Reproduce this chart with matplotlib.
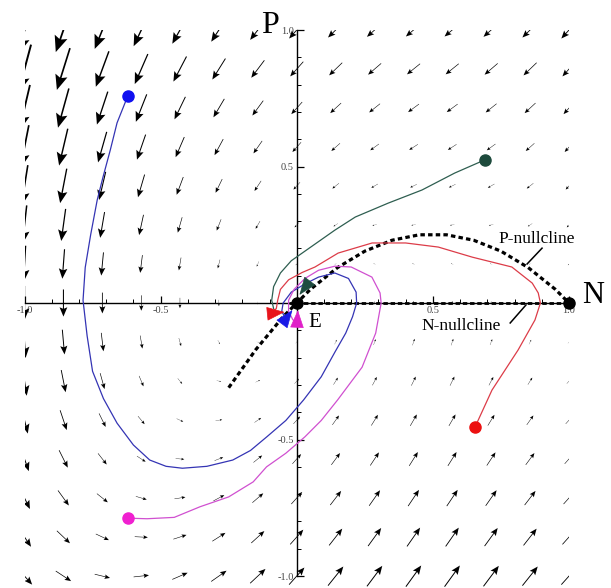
import numpy as np
import matplotlib
matplotlib.use("Agg")
import matplotlib.pyplot as plt

# ---------------- data ----------------
N_grid = [-1.0, -0.857, -0.714, -0.571, -0.429, -0.286, -0.143, 0.0,
          0.143, 0.286, 0.429, 0.571, 0.714, 0.857, 1.0]
P_grid = [1.0, 0.857, 0.714, 0.571, 0.429, 0.286, 0.143, 0.0,
          -0.143, -0.286, -0.429, -0.571, -0.714, -0.857, -1.0]

dN = [
    [-0.90, -0.90, -0.90, -0.90, -0.90, -0.90, -0.90, -0.90, -0.90, -0.90, -0.90, -0.90, -0.90, -0.90, -0.90],
    [-0.77, -0.77, -0.77, -0.77, -0.77, -0.77, -0.77, -0.77, -0.77, -0.77, -0.77, -0.77, -0.77, -0.77, -0.77],
    [-0.64, -0.64, -0.64, -0.64, -0.64, -0.64, -0.64, -0.64, -0.64, -0.64, -0.64, -0.64, -0.64, -0.64, -0.64],
    [-0.51, -0.51, -0.51, -0.51, -0.51, -0.51, -0.51, -0.51, -0.51, -0.51, -0.51, -0.51, -0.51, -0.51, -0.51],
    [-0.39, -0.39, -0.39, -0.39, -0.39, -0.39, -0.39, -0.39, -0.39, -0.39, -0.39, -0.39, -0.39, -0.39, -0.39],
    [-0.26, -0.26, -0.26, -0.26, -0.26, -0.26, -0.26, -0.26, -0.26, -0.26, -0.26, -0.26, -0.26, -0.26, -0.26],
    [-0.13, -0.13, -0.13, -0.13, -0.13, -0.13, -0.13, -0.13, -0.13, -0.13, -0.13, -0.13, -0.13, -0.13, -0.13],
    [0.00, 0.00, 0.00, 0.00, 0.00, 0.00, 0.00, 0.00, 0.00, 0.00, 0.00, 0.00, 0.00, 0.00, 0.00],
    [0.13, 0.13, 0.13, 0.13, 0.13, 0.13, 0.13, 0.13, 0.13, 0.13, 0.13, 0.13, 0.13, 0.13, 0.13],
    [0.26, 0.26, 0.26, 0.26, 0.26, 0.26, 0.26, 0.26, 0.26, 0.26, 0.26, 0.26, 0.26, 0.26, 0.26],
    [0.39, 0.39, 0.39, 0.39, 0.39, 0.39, 0.39, 0.39, 0.39, 0.39, 0.39, 0.39, 0.39, 0.39, 0.39],
    [0.51, 0.51, 0.51, 0.51, 0.51, 0.51, 0.51, 0.51, 0.51, 0.51, 0.51, 0.51, 0.51, 0.51, 0.51],
    [0.64, 0.64, 0.64, 0.64, 0.64, 0.64, 0.64, 0.64, 0.64, 0.64, 0.64, 0.64, 0.64, 0.64, 0.64],
    [0.77, 0.77, 0.77, 0.77, 0.77, 0.77, 0.77, 0.77, 0.77, 0.77, 0.77, 0.77, 0.77, 0.77, 0.77],
    [0.90, 0.90, 0.90, 0.90, 0.90, 0.90, 0.90, 0.90, 0.90, 0.90, 0.90, 0.90, 0.90, 0.90, 0.90],
]

dP = [
    [-3.00, -2.59, -2.22, -1.90, -1.61, -1.37, -1.16, -1.00, -0.88, -0.80, -0.76, -0.76, -0.80, -0.88, -1.00],
    [-2.86, -2.45, -2.08, -1.76, -1.47, -1.23, -1.02, -0.86, -0.74, -0.66, -0.62, -0.62, -0.66, -0.74, -0.86],
    [-2.71, -2.30, -1.93, -1.61, -1.32, -1.08, -0.87, -0.71, -0.59, -0.51, -0.47, -0.47, -0.51, -0.59, -0.71],
    [-2.57, -2.16, -1.79, -1.47, -1.18, -0.94, -0.73, -0.57, -0.45, -0.37, -0.33, -0.33, -0.37, -0.45, -0.57],
    [-2.43, -2.02, -1.65, -1.33, -1.04, -0.80, -0.59, -0.43, -0.31, -0.23, -0.19, -0.19, -0.23, -0.31, -0.43],
    [-2.29, -1.88, -1.51, -1.19, -0.90, -0.66, -0.45, -0.29, -0.17, -0.09, -0.05, -0.05, -0.09, -0.17, -0.29],
    [-2.14, -1.73, -1.36, -1.04, -0.75, -0.51, -0.30, -0.14, -0.02, 0.06, 0.10, 0.10, 0.06, -0.02, -0.14],
    [-2.00, -1.59, -1.22, -0.90, -0.61, -0.37, -0.16, 0.00, 0.12, 0.20, 0.24, 0.24, 0.20, 0.12, 0.00],
    [-1.86, -1.45, -1.08, -0.76, -0.47, -0.23, -0.02, 0.14, 0.26, 0.34, 0.38, 0.38, 0.34, 0.26, 0.14],
    [-1.71, -1.30, -0.93, -0.61, -0.32, -0.08, 0.13, 0.29, 0.41, 0.49, 0.53, 0.53, 0.49, 0.41, 0.29],
    [-1.57, -1.16, -0.79, -0.47, -0.18, 0.06, 0.27, 0.43, 0.55, 0.63, 0.67, 0.67, 0.63, 0.55, 0.43],
    [-1.43, -1.02, -0.65, -0.33, -0.04, 0.20, 0.41, 0.57, 0.69, 0.77, 0.81, 0.81, 0.77, 0.69, 0.57],
    [-1.29, -0.88, -0.51, -0.19, 0.10, 0.34, 0.55, 0.71, 0.83, 0.91, 0.95, 0.95, 0.91, 0.83, 0.71],
    [-1.14, -0.73, -0.36, -0.04, 0.25, 0.49, 0.70, 0.86, 0.98, 1.06, 1.10, 1.10, 1.06, 0.98, 0.86],
    [-1.00, -0.59, -0.22, 0.10, 0.39, 0.63, 0.84, 1.00, 1.12, 1.20, 1.24, 1.24, 1.20, 1.12, 1.00],
]

# P-nullcline (dashed hump)
pnull_N = [-0.25, -0.15, -0.05, 0.05, 0.15, 0.25, 0.35, 0.45, 0.55, 0.65, 0.75, 0.85, 0.95, 1.0]
pnull_P = [-0.31, -0.17, -0.05, 0.05, 0.13, 0.19, 0.23, 0.25, 0.25, 0.23, 0.19, 0.13, 0.05, 0.0]
# N-nullcline (along the N axis)
nnull_N = [-0.03, 1.0]
nnull_P = [0.0, 0.0]

# trajectories
blue_N = [-0.62, -0.66, -0.685, -0.712, -0.733, -0.757, -0.777, -0.785, -0.77, -0.75, -0.71, -0.66,
          -0.60, -0.54, -0.48, -0.42, -0.33, -0.235, -0.17, -0.11, -0.04, 0.025, 0.09, 0.14, 0.18,
          0.205, 0.22, 0.218, 0.19, 0.14, 0.08, 0.03, -0.02, -0.05, -0.055, -0.045]
blue_P = [0.76, 0.66, 0.56, 0.46, 0.377, 0.25, 0.13, 0.01, -0.12, -0.25, -0.35, -0.44,
          -0.52, -0.575, -0.598, -0.605, -0.598, -0.575, -0.54, -0.49, -0.43, -0.355, -0.27, -0.18, -0.11,
          -0.05, 0.0, 0.04, 0.09, 0.11, 0.095, 0.07, 0.04, 0.0, -0.03, -0.05]

mag_N = [-0.62, -0.55, -0.45, -0.355, -0.25, -0.16, -0.111, -0.04, 0.03, 0.09, 0.15, 0.24, 0.29, 0.31,
         0.306, 0.276, 0.2, 0.14, 0.08, 0.03, -0.01, -0.03, -0.03, -0.015, -0.002]
mag_P = [-0.788, -0.79, -0.785, -0.746, -0.71, -0.655, -0.60, -0.55, -0.49, -0.43, -0.355, -0.235, -0.11, 0.0,
         0.037, 0.095, 0.132, 0.135, 0.12, 0.09, 0.05, 0.01, -0.03, -0.06, -0.075]

red_N = [0.655, 0.717, 0.813, 0.875, 0.895, 0.887, 0.865, 0.79, 0.645, 0.52, 0.40, 0.277, 0.152,
         0.067, 0.02, -0.03, -0.06, -0.07, -0.075, -0.09]
red_P = [-0.454, -0.319, -0.172, -0.062, 0.0, 0.037, 0.073, 0.132, 0.168, 0.205, 0.22, 0.22, 0.183,
         0.132, 0.112, 0.085, 0.05, 0.01, -0.02, -0.033]

green_N = [0.69, 0.58, 0.46, 0.336, 0.215, 0.14, 0.08, 0.03, -0.02, -0.06, -0.085, -0.092, -0.085]
green_P = [0.524, 0.476, 0.414, 0.366, 0.315, 0.267, 0.225, 0.19, 0.155, 0.11, 0.06, 0.01, -0.02]

# end arrowheads near E: tip position and direction
head_tips = [(-0.045, -0.033), (-0.016, -0.026), (0.004, -0.026), (0.01, 0.03)]
head_dirs = [(1.0, 0.1), (0.6, 0.8), (0.05, 1.0), (-0.6, -0.8)]
head_cols = ["#e8141c", "#1a1ae6", "#e020c8", "#1f4c40"]

fp_N = [0.0, 1.0]
fp_P = [0.0, 0.0]

# ---------------- figure ----------------
fig = plt.figure(figsize=(6.11, 5.88), dpi=100)
ax = fig.add_axes([24.5 / 611, 1.0 / 588, 544.5 / 611, 557.0 / 588])
ax.set_xlim(-1.0, 1.0)
ax.set_ylim(-1.04, 1.0)

X, Y = np.meshgrid(N_grid, P_grid)
ax.quiver(X, Y, np.array(dN), np.array(dP), angles="xy", scale_units="xy", scale=16,
          pivot="middle", width=0.0046, headwidth=7.5, headlength=9, headaxislength=7.6,
          minshaft=2.9, minlength=0, color="black", zorder=2)

# axes
for s in ["top", "right"]:
    ax.spines[s].set_visible(False)
ax.spines["left"].set_position(("data", 0))
ax.spines["bottom"].set_position(("data", 0))
ax.spines["left"].set_bounds(-1, 1)
ax.spines["bottom"].set_bounds(-1, 1)
for s in ["left", "bottom"]:
    ax.spines[s].set_linewidth(1.0)
    ax.spines[s].set_zorder(3)

major = [-1.0, -0.5, 0.5, 1.0]
minor = [-0.9, -0.8, -0.7, -0.6, -0.4, -0.3, -0.2, -0.1, 0.1, 0.2, 0.3, 0.4, 0.6, 0.7, 0.8, 0.9]
ax.set_xticks(major)
ax.set_xticklabels(["-1.0", "-0.5", "0.5", "1.0"])
ax.set_yticks(major)
ax.set_yticklabels(["-1.0", "-0.5", "0.5", "1.0"])
ax.set_xticks(minor, minor=True)
ax.set_yticks(minor, minor=True)
ax.tick_params(which="major", direction="in", length=5, width=0.9, labelsize=7.5,
               labelcolor="#444444", pad=2)
ax.tick_params(which="minor", direction="in", length=3, width=0.7)
for lab in ax.get_xticklabels() + ax.get_yticklabels():
    lab.set_family("Liberation Serif")

# nullclines
ax.plot(nnull_N, nnull_P, color="black", lw=2.0, linestyle=(0, (1.6, 1.0)), zorder=4,
        clip_on=False)
ax.plot(pnull_N, pnull_P, color="black", lw=2.3, linestyle=(0, (1.4, 1.0)), zorder=4,
        clip_on=False)

# trajectories
ax.plot(blue_N, blue_P, color="#3434b4", lw=0.9, zorder=5)
ax.plot(mag_N, mag_P, color="#d050d0", lw=0.9, zorder=5)
ax.plot(red_N, red_P, color="#dc3c48", lw=0.9, zorder=5)
ax.plot(green_N, green_P, color="#2e5e50", lw=0.9, zorder=5)

for (tx, ty), (dx, dy), c in zip(head_tips, head_dirs, head_cols):
    n = np.hypot(dx, dy)
    ax.annotate("", xy=(tx, ty), xytext=(tx - 0.05 * dx / n, ty - 0.05 * dy / n),
                arrowprops=dict(arrowstyle="-|>,head_length=0.9,head_width=0.35",
                                mutation_scale=13, color=c, lw=0.5,
                                shrinkA=0, shrinkB=0), zorder=6)

# start points
ax.plot([-0.62], [0.76], "o", ms=8, color="#1010f0", zorder=7)
ax.plot([0.69], [0.524], "o", ms=8, color="#1d4a3c", zorder=7)
ax.plot([0.655], [-0.454], "o", ms=8, color="#ec1010", zorder=7)
ax.plot([-0.62], [-0.788], "o", ms=8, color="#f020d0", zorder=7)
# fixed points
ax.plot(fp_N, fp_P, "o", ms=8, color="black", zorder=8, clip_on=False)

serif = "Liberation Serif"
ax.text(1.048, 0.0, "N", fontsize=22, family=serif, ha="left", va="baseline", clip_on=False)
ax.text(-0.065, 0.989, "P", fontsize=23, family=serif, ha="right", va="baseline", clip_on=False)
ax.text(0.041, -0.088, "E", fontsize=15, family=serif, ha="left", va="baseline", zorder=9)
ax.text(0.883, 0.22, "P-nullcline", fontsize=12.5, family=serif, ha="center", va="baseline", zorder=9)
ax.text(0.605, -0.099, "N-nullcline", fontsize=12.5, family=serif, ha="center", va="baseline", zorder=9)
ax.plot([0.901, 0.846], [0.201, 0.143], color="black", lw=1.1, zorder=9)
ax.plot([0.784, 0.842], [-0.073, -0.007], color="black", lw=1.1, zorder=9)

fig.savefig("out.png", dpi=100)
